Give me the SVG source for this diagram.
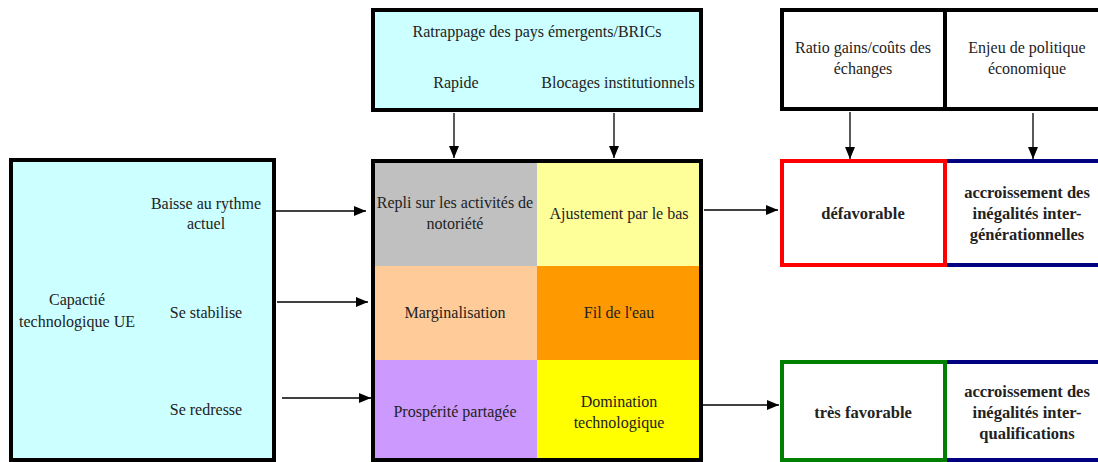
<svg xmlns="http://www.w3.org/2000/svg" width="1098" height="462" viewBox="0 0 1098 462">
<defs>
<marker id="ah" markerWidth="12" markerHeight="10" refX="12" refY="5" orient="auto" markerUnits="userSpaceOnUse">
<path d="M0,0 L12,5 L0,10 Z" fill="#000"/>
</marker>
<style>
text{font-family:"Liberation Serif","DejaVu Serif",serif;font-size:16px;fill:#222;text-anchor:middle}
.b{font-weight:bold;font-size:16.5px}
.box{stroke:#000;stroke-width:4}
.conn line{stroke:#000;stroke-width:1.3;marker-end:url(#ah)}
</style>
</defs>
<rect width="1098" height="462" fill="#fff"/>

<g id="capacite">
<rect class="box" x="11" y="160" width="263" height="300" fill="#CCFFFF"/>
<text x="77" y="305">Capactié</text>
<text x="77" y="327">technologique UE</text>
<text x="206" y="209">Baisse au rythme</text>
<text x="206" y="229">actuel</text>
<text x="206" y="318">Se stabilise</text>
<text x="206" y="415">Se redresse</text>
</g>

<g id="ratrappage">
<rect class="box" x="373" y="10" width="328" height="100" fill="#CCFFFF"/>
<text x="537" y="37">Ratrappage des pays émergents/BRICs</text>
<text x="456" y="88">Rapide</text>
<text x="618" y="88">Blocages institutionnels</text>
</g>

<g id="matrice">
<rect x="373" y="161" width="164" height="105" fill="#C0C0C0"/>
<rect x="537" y="161" width="164" height="105" fill="#FFFF99"/>
<rect x="373" y="266" width="164" height="94" fill="#FFCC99"/>
<rect x="537" y="266" width="164" height="94" fill="#FF9900"/>
<rect x="373" y="360" width="164" height="100" fill="#CC99FF"/>
<rect x="537" y="360" width="164" height="100" fill="#FFFF00"/>
<rect class="box" x="373" y="161" width="328" height="299" fill="none"/>
<text x="455" y="208">Repli sur les activités de</text>
<text x="455" y="229">notoriété</text>
<text x="619" y="219">Ajustement par le bas</text>
<text x="455" y="318">Marginalisation</text>
<text x="619" y="318">Fil de l'eau</text>
<text x="455" y="417">Prospérité partagée</text>
<text x="619" y="407">Domination</text>
<text x="619" y="428">technologique</text>
</g>

<g id="ratio">
<rect class="box" x="782" y="10" width="163" height="99" fill="#fff"/>
<text x="863" y="53">Ratio gains/coûts des</text>
<text x="863" y="74">échanges</text>
</g>

<g id="enjeu">
<rect class="box" x="945" y="10" width="165" height="99" fill="#fff"/>
<text x="1027" y="53">Enjeu de politique</text>
<text x="1027" y="74">économique</text>
</g>

<g id="defavorable">
<rect x="945" y="161" width="165" height="104" fill="#fff" stroke="#000080" stroke-width="4"/>
<rect x="782" y="161" width="163" height="104" fill="#fff" stroke="#FF0000" stroke-width="4"/>
<text class="b" x="863" y="219">défavorable</text>
<text class="b" x="1027" y="198">accroissement des</text>
<text class="b" x="1027" y="219">inégalités inter-</text>
<text class="b" x="1027" y="240">générationnelles</text>
</g>

<g id="favorable">
<rect x="945" y="362" width="165" height="98" fill="#fff" stroke="#000080" stroke-width="4"/>
<rect x="782" y="362" width="163" height="98" fill="#fff" stroke="#008000" stroke-width="4"/>
<text class="b" x="863" y="418">très favorable</text>
<text class="b" x="1027" y="397">accroissement des</text>
<text class="b" x="1027" y="418">inégalités inter-</text>
<text class="b" x="1027" y="439">qualifications</text>
</g>

<g class="conn" id="connectors">
<line x1="454" y1="113" x2="454" y2="158"/>
<line x1="614" y1="113" x2="614" y2="158"/>
<line x1="850" y1="112" x2="850" y2="159"/>
<line x1="1033" y1="113" x2="1033" y2="159"/>
<line x1="275" y1="211" x2="366" y2="211"/>
<line x1="277" y1="302" x2="368" y2="302"/>
<line x1="282" y1="398" x2="371" y2="398"/>
<line x1="704" y1="210" x2="778" y2="210"/>
<line x1="703" y1="405" x2="779" y2="405"/>
</g>
</svg>
